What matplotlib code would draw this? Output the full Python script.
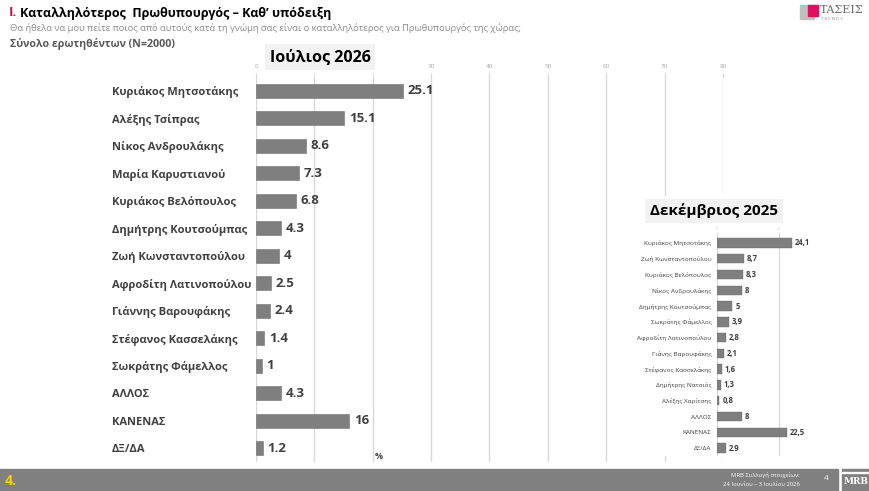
import matplotlib.pyplot as plt
from matplotlib.patches import Rectangle

plt.rcParams['font.family'] = ['Open Sans', 'DejaVu Sans']

# July 2026 (main chart)
jul_names = ["Κυριάκος Μητσοτάκης", "Αλέξης Τσίπρας", "Νίκος Ανδρουλάκης", "Μαρία Καρυστιανού",
             "Κυριάκος Βελόπουλος", "Δημήτρης Κουτσούμπας", "Ζωή Κωνσταντοπούλου",
             "Αφροδίτη Λατινοπούλου", "Γιάννης Βαρουφάκης", "Στέφανος Κασσελάκης",
             "Σωκράτης Φάμελλος", "ΑΛΛΟΣ", "ΚΑΝΕΝΑΣ", "ΔΞ/ΔΑ"]
jul_values = [25.1, 15.1, 8.6, 7.3, 6.8, 4.3, 4, 2.5, 2.4, 1.4, 1, 4.3, 16, 1.2]
jul_ticks = [0, 10, 20, 30, 40, 50, 60, 70, 80]

# December 2025 (inset)
dec_names = ["Κυριάκος Μητσοτάκης", "Ζωή Κωνσταντοπούλου", "Κυριάκος Βελόπουλος", "Νίκος Ανδρουλάκης",
             "Δημήτρης Κουτσούμπας", "Σωκράτης Φάμελλος", "Αφροδίτη Λατινοπούλου",
             "Γιάνης Βαρουφάκης", "Στέφανος Κασσελάκης", "Δημήτρης Νατσιός",
             "Αλέξης Χαρίτσης", "ΑΛΛΟΣ", "ΚΑΝΕΝΑΣ", "ΔΞ/ΔΑ"]
dec_values = [24.1, 8.7, 8.3, 8, 5, 3.9, 2.8, 2.1, 1.6, 1.3, 0.8, 8, 22.5, 2.9]
dec_labels = ["24,1", "8,7", "8,3", "8", "5", "3,9", "2,8", "2,1", "1,6", "1,3", "0,8", "8", "22,5", "2.9"]

W, H = 870, 491
fig = plt.figure(figsize=(8.7, 4.91), dpi=100)
dark = "#404040"
bar_col = "#7f7f7f"
grid_col = "#d9d9d9"


def fx(px):
    return px / W


def fy(py):
    return 1 - py / H


# header
fig.text(fx(9), fy(13), "I.", color="#c0143c", fontsize=9.5, fontweight="bold", va="center")
fig.text(fx(20), fy(13), "Καταλληλότερος  Πρωθυπουργός – Καθ’ υπόδειξη", color="black",
         fontsize=9, fontweight="bold", va="center")
fig.text(fx(10), fy(28), "Θα ήθελα να μου πείτε ποιος από αυτούς κατά τη γνώμη σας είναι ο καταλληλότερος "
         "για Πρωθυπουργός της χώρας;", color="#8c8c8c", fontsize=6.75, va="center")
fig.text(fx(10), fy(44), "Σύνολο ερωτηθέντων (N=2000)", color="#595959", fontsize=7.7,
         fontweight="bold", va="center")

# logo top right
fig.add_artist(Rectangle((fx(800), fy(19)), fx(14), 14 / H, color="#bfbfbf"))
fig.add_artist(Rectangle((fx(808), fy(16)), fx(10), 11 / H, color="#e0115f"))
fig.text(fx(820), fy(10), "ΤΑΣΕΙΣ", color="#6d6d6d", fontsize=8, va="center", family="DejaVu Serif")
fig.text(fx(821), fy(19), "T R E N D S", color="#8c8c8c", fontsize=3.2, va="center")

# main chart
ax = fig.add_axes([fx(256), fy(462), fx(723 - 256), (462 - 77) / H])
ypos = list(range(len(jul_names)))
ax.barh(ypos, jul_values, height=0.5, color=bar_col, edgecolor="#6f6f6f", linewidth=0.4, zorder=3)
for y, v in zip(ypos, jul_values):
    ax.text(v + 0.8, y, f"{v:g}", va="center", ha="left", fontsize=9.5, fontweight="bold", color=dark)
ax.set_xlim(0, 80)
ax.set_ylim(len(jul_names) - 0.5, -0.5)
ax.set_xticks(jul_ticks)
ax.xaxis.tick_top()
ax.tick_params(axis="x", labelsize=4.5, labelcolor="#a6a6a6", length=3, color=grid_col, pad=3)
ax.set_yticks(ypos)
ax.set_yticklabels(jul_names, ha="left", fontsize=8, fontweight="bold", color=dark)
ax.tick_params(axis="y", length=0, pad=104)
ax.grid(axis="x", color=grid_col, linewidth=1, zorder=0)
for s in ax.spines.values():
    s.set_visible(False)
ax.text(20.3, 13.3, "%", fontsize=6.5, fontweight="bold", color=dark, va="center")

fig.text(fx(320), fy(57), "Ιούλιος 2026", fontsize=11.5, fontweight="bold", color="black",
         ha="center", va="center", zorder=3,
         bbox=dict(boxstyle="square,pad=0.3", facecolor="#f2f2f2", edgecolor="none"))

# white patch behind inset
fig.add_artist(Rectangle((fx(632), fy(456)), fx(200), (456 - 196) / H, facecolor="white",
                         edgecolor="none", zorder=1))

fig.text(fx(714), fy(211), "Δεκέμβριος 2025", fontsize=11, fontweight="bold", color="black",
         ha="center", va="center", zorder=2,
         bbox=dict(boxstyle="square,pad=0.3", facecolor="#f2f2f2", edgecolor="none"))

# inset chart
ax2 = fig.add_axes([fx(717), fy(456), fx(80.6), (456 - 235) / H])
ax2.set_zorder(2)
ax2.patch.set_alpha(0)
ypos2 = list(range(len(dec_names)))
ax2.barh(ypos2, dec_values, height=0.6, color=bar_col, edgecolor="#6f6f6f", linewidth=0.3, zorder=3)
for y, v, lab in zip(ypos2, dec_values, dec_labels):
    ax2.text(v + 0.9, y, lab, va="center", ha="left", fontsize=5.5, fontweight="bold", color=dark)
ax2.set_xlim(0, 26)
ax2.set_ylim(len(dec_names) - 0.5, -0.5)
ax2.set_xticks([0, 20])
ax2.xaxis.tick_top()
ax2.tick_params(axis="x", labelsize=2.5, labelcolor="#d0d0d0", length=2, color=grid_col, pad=1)
ax2.set_yticks(ypos2)
ax2.set_yticklabels(dec_names, fontsize=4.6, color=dark)
ax2.tick_params(axis="y", length=0, pad=4)
ax2.grid(axis="x", color=grid_col, linewidth=0.8, zorder=0)
for s in ax2.spines.values():
    s.set_visible(False)

# footer
fig.add_artist(Rectangle((0, 0), fx(838), 22 / H, color="#808080"))
fig.text(fx(5), fy(481), "4.", color="#ffd200", fontsize=10, fontweight="bold", va="center")
fig.text(fx(800), fy(475), "MRB Συλλογή στοιχείων:", color="white", fontsize=4.2, ha="right", va="center")
fig.text(fx(800), fy(485), "24 Ιουνίου – 3 Ιουλίου 2026", color="white", fontsize=4.2, ha="right",
         va="center")
fig.text(fx(826), fy(479), "4", color="white", fontsize=6, ha="center", va="center")
fig.add_artist(Rectangle((fx(842), 0), fx(28), 22 / H, color="#808080"))
fig.add_artist(Rectangle((fx(842), fy(473)), fx(28), 1 / H, color="white"))
fig.text(fx(856), fy(482), "MRB", color="white", fontsize=6.5, fontweight="bold", ha="center",
         va="center", family="DejaVu Serif")

fig.savefig("out.png", dpi=100)
